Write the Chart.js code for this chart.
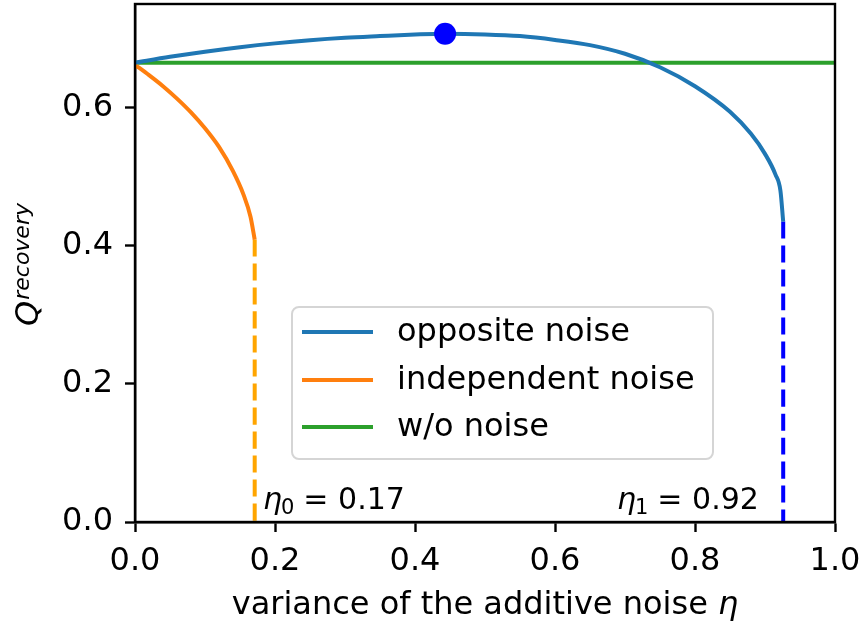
<!DOCTYPE html>
<html>
<head>
<meta charset="utf-8">
<script src="https://cdn.jsdelivr.net/npm/chart.js@4.4.1/dist/chart.umd.min.js"></script>
<style>
  html, body { margin: 0; padding: 0; background: #fff; }
  #wrap { width: 863px; height: 625px; }
</style>
</head>
<body>
<div id="wrap"><canvas id="chart" width="863" height="625"></canvas></div>
<script>
// curve samples
var oppositeX = [0, 0.05, 0.1, 0.15, 0.2, 0.25, 0.3, 0.35, 0.4, 0.443, 0.5, 0.55, 0.6, 0.65, 0.7, 0.75, 0.8, 0.85, 0.88, 0.9, 0.915, 0.922, 0.926];
var oppositeY = [0.665, 0.6735, 0.681, 0.6875, 0.693, 0.6975, 0.701, 0.7035, 0.7058, 0.707, 0.706, 0.7035, 0.698, 0.6905, 0.678, 0.6585, 0.631, 0.594, 0.562, 0.533, 0.503, 0.480, 0.435];
var independentX = [0, 0.02, 0.04, 0.06, 0.08, 0.1, 0.12, 0.14, 0.155, 0.165, 0.171];
var independentY = [0.662, 0.647, 0.631, 0.613, 0.593, 0.570, 0.543, 0.508, 0.474, 0.442, 0.409];
var noNoiseX = [0, 1];
var noNoiseY = [0.665, 0.665];
var eta0 = 0.171, eta0Top = 0.409;
var eta1 = 0.926, eta1Top = 0.435;
var peakX = 0.443; // the marked maximum on the opposite-noise curve
var xTicks = [0, 0.2, 0.4, 0.6, 0.8, 1.0];
var yTicks = [0, 0.2, 0.4, 0.6];

var FONT = "'DejaVu Sans', sans-serif";
var FS = 32;
var peakIndex = oppositeX.indexOf(peakX);

function pts(xs, ys) {
  return xs.map(function (x, i) { return { x: x, y: ys[i] }; });
}

function lineSet(label, xs, ys, color, dash) {
  return {
    label: label,
    data: pts(xs, ys),
    showLine: true,
    borderColor: color,
    backgroundColor: color,
    borderWidth: 4,
    borderDash: dash || [],
    pointRadius: 0,
    cubicInterpolationMode: "monotone",
    fill: false
  };
}

var opposite = lineSet("opposite noise", oppositeX, oppositeY, "#1f77b4");
// dot only on the peak sample (keeps the layout from reserving room for it)
opposite.pointRadius = function (c) { return c.dataIndex === peakIndex ? 11 : 0; };
opposite.pointBackgroundColor = "#0000ff";
opposite.pointBorderWidth = 0;

var datasets = [
  opposite,
  lineSet("independent noise", independentX, independentY, "#ff7f0e"),
  lineSet("w/o noise", noNoiseX, noNoiseY, "#2ca02c"),
  lineSet(null, [eta0, eta0], [eta0Top, 0], "#ffa500", [17, 7]),
  lineSet(null, [eta1, eta1], [eta1Top, 0], "#0000ff", [17, 7])
];

// frame, legend, annotations and axis titles
var decor = {
  id: "decor",
  afterDraw: function (chart) {
    var ctx = chart.ctx, a = chart.chartArea;
    ctx.save();
    ctx.strokeStyle = "#000";
    ctx.lineWidth = 2.4;
    ctx.strokeRect(a.left, a.top, a.right - a.left, a.bottom - a.top);

    // legend
    var lx = 292, ly = 307, lw = 421, lh = 152;
    ctx.beginPath();
    ctx.roundRect(lx, ly, lw, lh, 7);
    ctx.fillStyle = "rgba(255,255,255,0.85)";
    ctx.fill();
    ctx.strokeStyle = "#d5d5d5";
    ctx.lineWidth = 2;
    ctx.stroke();
    ctx.font = FS + "px " + FONT;
    ctx.textBaseline = "middle";
    ctx.fillStyle = "#000";
    var rows = [332, 380, 427];
    chart.data.datasets.slice(0, 3).forEach(function (d, i) {
      ctx.strokeStyle = d.borderColor;
      ctx.lineWidth = 4;
      ctx.beginPath();
      ctx.moveTo(302, rows[i]);
      ctx.lineTo(373, rows[i]);
      ctx.stroke();
      ctx.fillText(d.label, 397, rows[i] + 1);
    });

    // eta annotations
    function etaLabel(x, sub, val) {
      ctx.textBaseline = "alphabetic";
      ctx.font = "italic 30px " + FONT;
      ctx.fillText("\u03b7", x, 509);
      var w = ctx.measureText("\u03b7").width;
      ctx.font = "21px " + FONT;
      ctx.fillText(sub, x + w - 1, 514);
      var w2 = ctx.measureText(sub).width;
      ctx.font = "30px " + FONT;
      ctx.fillText("= " + val, x + w + w2 + 8, 509);
    }
    etaLabel(263, "0", "0.17");
    etaLabel(617, "1", "0.92");

    // x title
    ctx.font = FS + "px " + FONT;
    var t1 = "variance of the additive noise ";
    var w1 = ctx.measureText(t1).width;
    ctx.font = "italic " + FS + "px " + FONT;
    var w3 = ctx.measureText("\u03b7").width;
    var sx = 485 - (w1 + w3) / 2;
    ctx.font = FS + "px " + FONT;
    ctx.fillText(t1, sx, 614);
    ctx.font = "italic " + FS + "px " + FONT;
    ctx.fillText("\u03b7", sx + w1, 614);

    // y title
    ctx.translate(38, 265);
    ctx.rotate(-Math.PI / 2);
    ctx.font = "italic " + FS + "px " + FONT;
    var qw = ctx.measureText("Q").width;
    ctx.font = "italic 22px " + FONT;
    var rw = ctx.measureText("recovery").width;
    var st = -(qw + rw) / 2;
    ctx.font = "italic " + FS + "px " + FONT;
    ctx.fillText("Q", st, 0);
    ctx.font = "italic 22px " + FONT;
    ctx.fillText("recovery", st + qw + 1, -9);
    ctx.restore();
  }
};

function fixX(s) { s.height = 103; s.paddingLeft = 0; s.paddingRight = 0; }
function fixY(s) { s.width = 135; s.paddingTop = 0; s.paddingBottom = 0; }

new Chart(document.getElementById("chart"), {
  type: "scatter",
  data: { datasets: datasets },
  options: {
    responsive: false,
    animation: false,
    layout: { padding: { top: 4, right: 28, left: 0, bottom: 0 } },
    plugins: { legend: { display: false }, tooltip: { enabled: false } },
    scales: {
      x: {
        type: "linear",
        min: 0,
        max: 1,
        afterBuildTicks: function (s) { s.ticks = xTicks.map(function (v) { return { value: v }; }); },
        afterFit: fixX,
        grid: { display: true, drawOnChartArea: false, drawTicks: true, tickLength: 10, tickColor: "#000", tickWidth: 2.4 },
        border: { display: true, color: "#000", width: 2.4 },
        ticks: { color: "#000", font: { family: FONT, size: FS }, padding: 10, maxRotation: 0,
          callback: function (v) { return v.toFixed(1); } }
      },
      y: {
        type: "linear",
        min: 0,
        max: 0.75,
        afterBuildTicks: function (s) { s.ticks = yTicks.map(function (v) { return { value: v }; }); },
        afterFit: fixY,
        grid: { display: true, drawOnChartArea: false, drawTicks: true, tickLength: 10, tickColor: "#000", tickWidth: 2.4 },
        border: { display: true, color: "#000", width: 2.4 },
        ticks: { color: "#000", font: { family: FONT, size: FS }, padding: 12,
          callback: function (v) { return v.toFixed(1); } }
      }
    }
  },
  plugins: [decor]
});
</script>
</body>
</html>
